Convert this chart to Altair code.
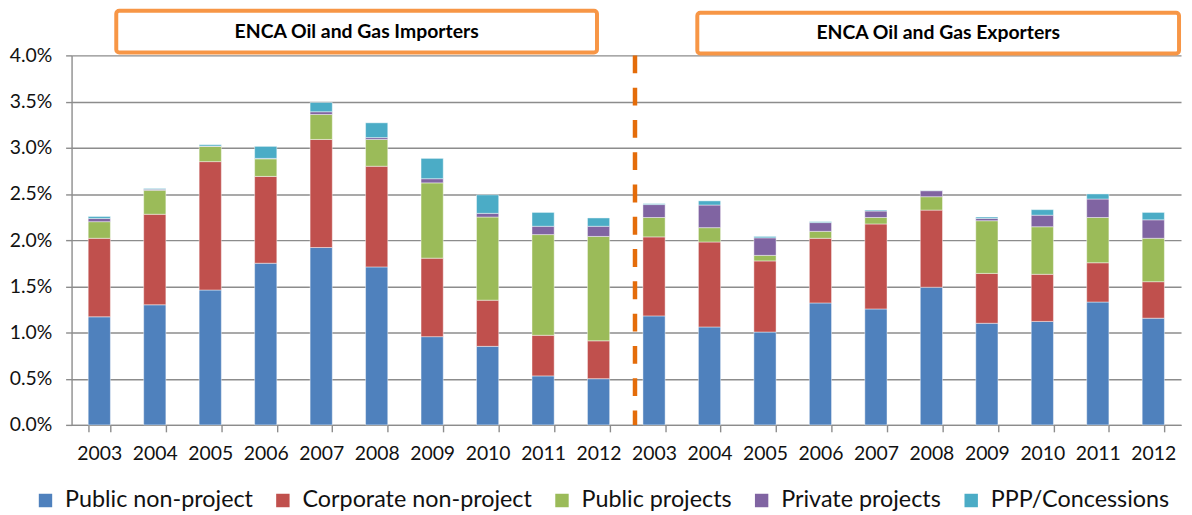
import altair as alt
import pandas as pd

years = ["2003", "2004", "2005", "2006", "2007", "2008", "2009", "2010", "2011", "2012"]
groups = ["I", "E"]  # I = Oil and Gas Importers, E = Oil and Gas Exporters
series = ["Public non-project", "Corporate non-project", "Public projects",
          "Private projects", "PPP/Concessions"]
colors = ["#4F81BD", "#C0504D", "#9BBB59", "#8064A2", "#4BACC6"]

# values in percent of GDP, importers (2003-2012) then exporters (2003-2012)
public_nonproject = [1.17, 1.30, 1.46, 1.75, 1.92, 1.71, 0.955, 0.85, 0.53, 0.50,
                     1.18, 1.06, 1.005, 1.32, 1.255, 1.49, 1.10, 1.12, 1.33, 1.155]
corporate_nonproject = [0.85, 0.98, 1.39, 0.94, 1.17, 1.09, 0.85, 0.50, 0.44, 0.41,
                        0.855, 0.92, 0.77, 0.70, 0.92, 0.835, 0.54, 0.51, 0.425, 0.395]
public_projects = [0.18, 0.26, 0.165, 0.19, 0.27, 0.29, 0.815, 0.90, 1.09, 1.13,
                   0.21, 0.155, 0.06, 0.075, 0.07, 0.145, 0.57, 0.515, 0.49, 0.47]
private_projects = [0.035, 0.01, 0.003, 0.005, 0.03, 0.02, 0.045, 0.04, 0.09, 0.11,
                    0.14, 0.245, 0.19, 0.095, 0.07, 0.065, 0.025, 0.125, 0.20, 0.20]
ppp_concessions = [0.02, 0.01, 0.015, 0.13, 0.10, 0.16, 0.22, 0.20, 0.15, 0.09,
                   0.01, 0.045, 0.015, 0.01, 0.01, 0.003, 0.015, 0.06, 0.055, 0.08]

panel_titles = ["ENCA Oil and Gas Importers", "ENCA Oil and Gas Exporters"]
y_ticks = [0, 0.5, 1.0, 1.5, 2.0, 2.5, 3.0, 3.5, 4.0]

cats = [g + y for g in groups for y in years]
all_series = [public_nonproject, corporate_nonproject, public_projects,
              private_projects, ppp_concessions]

rows = []
for si, (name, vals) in enumerate(zip(series, all_series)):
    for c, v in zip(cats, vals):
        rows.append({"cat": c, "series": name, "rank": si, "pct": v})
df = pd.DataFrame(rows)

FONT = "Lato"
GRID = "#8c8c8c"

x_enc = alt.X("cat:N", sort=cats,
              scale=alt.Scale(paddingInner=0.6, paddingOuter=0.3),
              axis=alt.Axis(title=None, labelExpr="substring(datum.label, 1, 5)",
                            labelAngle=0, tickBand="extent", tickSize=7,
                            labelPadding=13, labelFontSize=19.5, labelFont=FONT,
                            labelColor="#111", domainColor=GRID, domainWidth=1.4,
                            tickColor=GRID, tickWidth=1.4, grid=False))

bars = alt.Chart(df).mark_bar(stroke="white", strokeWidth=0.8, strokeOpacity=0.55).encode(
    x=x_enc,
    y=alt.Y("pct:Q", stack="zero",
            scale=alt.Scale(domain=[0, 4], nice=False),
            axis=alt.Axis(title=None, values=y_ticks,
                          labelExpr="format(datum.value, '.1f') + '%'",
                          labelFontSize=19.5, labelFont=FONT, labelColor="#111",
                          labelPadding=14, tickSize=6, tickColor=GRID, tickWidth=1.4,
                          domainColor=GRID, domainWidth=1.4,
                          gridColor=GRID, gridWidth=1.4)),
    color=alt.Color("series:N", sort=series,
                    scale=alt.Scale(domain=series, range=colors),
                    legend=alt.Legend(title=None, orient="none", direction="horizontal",
                                      legendX=-38, legendY=436,
                                      symbolType="square", symbolSize=225,
                                      labelFontSize=23.5, labelLimit=0,
                                      labelFont=FONT, labelColor="#111",
                                      labelOffset=8, columnPadding=18)),
    order=alt.Order("rank:Q", sort="ascending"),
)

divider_df = pd.DataFrame({"cat": ["E2003"], "top": [4.0], "bottom": [0.0]})
divider = alt.Chart(divider_df).mark_rule(color="#E46C0A", strokeWidth=4.5,
                                          strokeDash=[18, 14.5], xOffset=-8).encode(
    x=alt.X("cat:N", sort=cats, bandPosition=0),
    y="top:Q",
    y2="bottom:Q",
)

# title boxes above the plot area (pixel positions relative to the plot origin)
box_specs = [(45, 529, -45, -3), (630, 1115, -43, -2)]
annotations = []
for title, (bx0, bx1, by0, by1) in zip(panel_titles, box_specs):
    annotations.append(
        alt.Chart(divider_df).mark_rect(fill="white", stroke="#F79646", strokeWidth=4,
                                        cornerRadius=3).encode(
            x=alt.value(bx0), x2=alt.value(bx1), y=alt.value(by0), y2=alt.value(by1))
    )
    annotations.append(
        alt.Chart(divider_df).mark_text(fontSize=19.5, fontWeight="bold", font=FONT,
                                        color="#000", baseline="middle",
                                        text=title).encode(
            x=alt.value((bx0 + bx1) / 2), y=alt.value((by0 + by1) / 2))
    )

chart = alt.layer(bars, divider, *annotations).properties(
    width=1117, height=372,
    autosize=alt.AutoSizeParams(type="none"),
    padding={"left": 64, "top": 46, "right": 3, "bottom": 85},
).configure_view(strokeWidth=0)

chart.save("out.html", embed_options={"renderer": "svg", "actions": False})
